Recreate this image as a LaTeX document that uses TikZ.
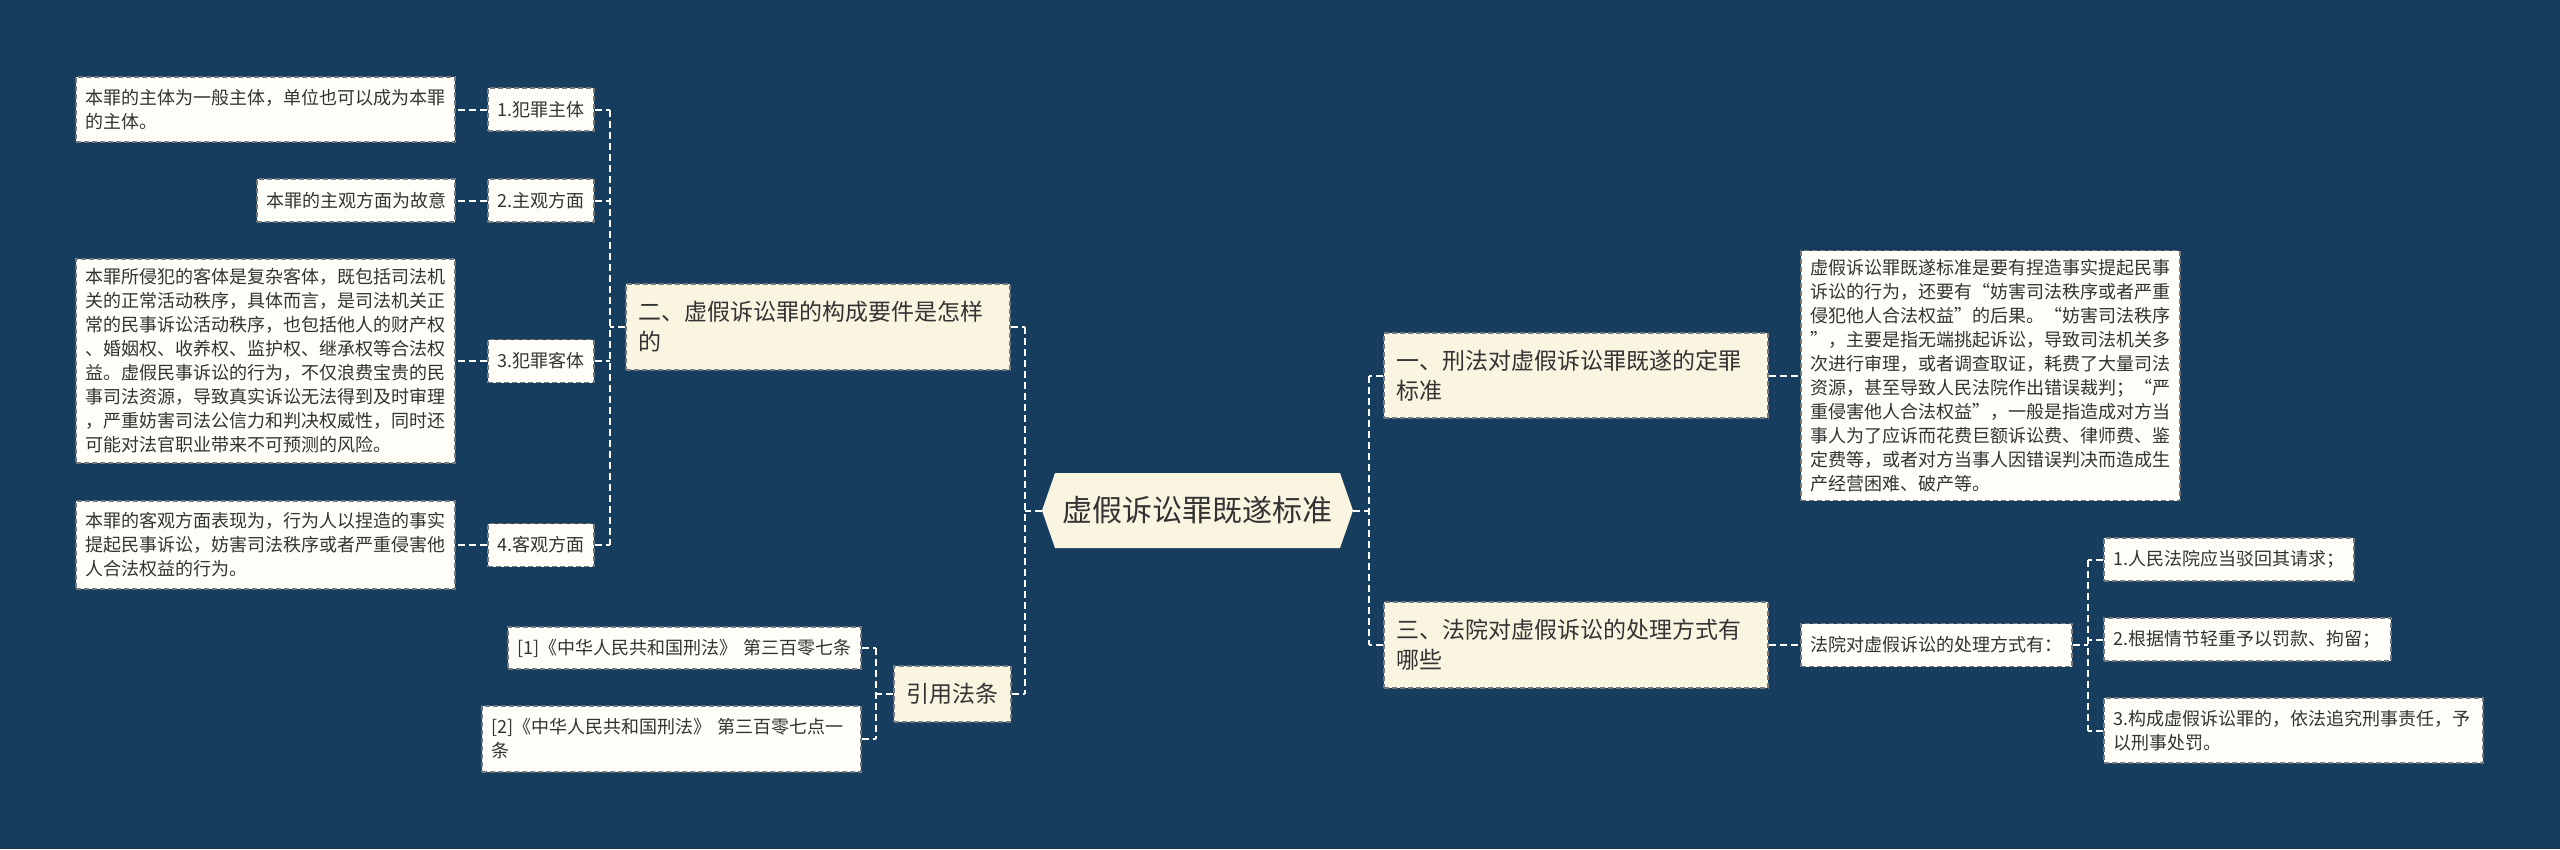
\documentclass[tikz,border=0pt]{standalone}
\usepackage{fontspec}
\setmainfont{Noto Sans CJK SC}
\definecolor{bg}{RGB}{23,61,94}
\definecolor{cream}{RGB}{250,245,225}
\definecolor{leafc}{RGB}{255,254,248}
\definecolor{txt}{RGB}{51,51,51}
\definecolor{bord}{RGB}{115,120,125}
\begin{document}
\begin{tikzpicture}[x=1pt,y=-1pt,
 conn/.style={draw=white, line width=2pt, dash pattern=on 7pt off 4pt},
 boxbase/.style={draw=bord, line width=1.4pt, dash pattern=on 5pt off 3pt, text=txt, inner ysep=0pt, anchor=center},
 leaf/.style={boxbase, fill=leafc, font=\fontsize{18}{24}\selectfont, align=left, inner xsep=9pt},
 leafc/.style={boxbase, fill=leafc, font=\fontsize{18}{24}\selectfont, align=center, inner xsep=9pt},
 mainbox/.style={boxbase, fill=cream, font=\fontsize{23}{30}\selectfont, align=left, inner xsep=12pt},
]
\fill[bg] (0,0) rectangle (2560,849);
\useasboundingbox (0,0) rectangle (2560,849);

% centre
\fill[cream] (1042,510.5) -- (1055,473) -- (1340,473) -- (1353,510.5) -- (1340,548) -- (1055,548) -- cycle;
\node[text=txt, font=\fontsize{30}{36}\selectfont, minimum width=311pt, minimum height=75pt, inner sep=0pt] (ctr) at (1197.5,510.5) {虚假诉讼罪既遂标准};

% main branches
\node[mainbox, text width=360pt, minimum height=86pt] (er) at (818,327) {二、虚假诉讼罪的构成要件是怎样\\的};
\node[mainbox, text width=360pt, minimum height=85pt] (yi) at (1576,375.5) {一、刑法对虚假诉讼罪既遂的定罪\\标准};
\node[mainbox, text width=360pt, minimum height=86pt] (san) at (1576,645) {三、法院对虚假诉讼的处理方式有\\哪些};
\node[mainbox, align=center, inner xsep=8.5pt, text width=100pt, minimum height=56pt] (yy) at (952.5,694) {引用法条};

% left sub-branches
\node[leafc, text width=88pt, minimum height=43pt] (b1) at (541,109.5) {1.犯罪主体};
\node[leafc, text width=88pt, minimum height=43pt] (b2) at (541,200.5) {2.主观方面};
\node[leafc, text width=88pt, minimum height=43pt] (b3) at (541,361) {3.犯罪客体};
\node[leafc, text width=88pt, minimum height=43pt] (b4) at (541,545) {4.客观方面};

\node[leaf, text width=361pt, minimum height=65pt] (l1) at (265.5,109.5) {本罪的主体为一般主体，单位也可以成为本罪\\的主体。};
\node[leaf, text width=180pt, minimum height=43pt] (l2) at (356,200.5) {本罪的主观方面为故意};
\node[leaf, text width=361pt, minimum height=204pt] (l3) at (265.5,361) {本罪所侵犯的客体是复杂客体，既包括司法机\\关的正常活动秩序，具体而言，是司法机关正\\常的民事诉讼活动秩序，也包括他人的财产权\\、婚姻权、收养权、监护权、继承权等合法权\\益。虚假民事诉讼的行为，不仅浪费宝贵的民\\事司法资源，导致真实诉讼无法得到及时审理\\，严重妨害司法公信力和判决权威性，同时还\\可能对法官职业带来不可预测的风险。};
\node[leaf, text width=361pt, minimum height=88pt] (l4) at (265.5,545) {本罪的客观方面表现为，行为人以捏造的事实\\提起民事诉讼，妨害司法秩序或者严重侵害他\\人合法权益的行为。};

% references
\node[leaf, text width=335pt, minimum height=42pt] (r1) at (684.5,648) {[1]《中华人民共和国刑法》 第三百零七条};
\node[leaf, text width=361pt, minimum height=66pt] (r2) at (671.5,739) {[2]《中华人民共和国刑法》 第三百零七点一\\条};

% right side
\node[leaf, text width=361pt, minimum height=250pt] (det) at (1990.5,375.5) {虚假诉讼罪既遂标准是要有捏造事实提起民事\\诉讼的行为，还要有“妨害司法秩序或者严重\\侵犯他人合法权益”的后果。“妨害司法秩序\\”，主要是指无端挑起诉讼，导致司法机关多\\次进行审理，或者调查取证，耗费了大量司法\\资源，甚至导致人民法院作出错误裁判；“严\\重侵害他人合法权益”，一般是指造成对方当\\事人为了应诉而花费巨额诉讼费、律师费、鉴\\定费等，或者对方当事人因错误判决而造成生\\产经营困难、破产等。};
\node[leaf, text width=253pt, minimum height=43pt] (fy) at (1936.5,645) {法院对虚假诉讼的处理方式有：};
\node[leaf, text width=232pt, minimum height=43pt] (pa) at (2229,559.5) {1.人民法院应当驳回其请求；};
\node[leaf, text width=269pt, minimum height=43pt] (pb) at (2247.5,639.5) {2.根据情节轻重予以罚款、拘留；};
\node[leaf, text width=361pt, minimum height=65pt] (pc) at (2293.5,730.5) {3.构成虚假诉讼罪的，依法追究刑事责任，予\\以刑事处罚。};

% connectors: centre left
\coordinate (tL) at (1025,510.5);
\draw[conn] (ctr.west) -- (tL);
\draw[conn] (er.east -| tL) -- (yy.east -| tL);
\draw[conn] (er.east) -- (er.east -| tL);
\draw[conn] (yy.east) -- (yy.east -| tL);

% er to b1..b4
\coordinate (tLL) at (610,327);
\draw[conn] (er.west) -- (tLL);
\draw[conn] (b1.east -| tLL) -- (b4.east -| tLL);
\foreach \b/\l in {b1/l1,b2/l2,b3/l3,b4/l4}{
  \draw[conn] (\b.east) -- (\b.east -| tLL);
  \draw[conn] (\b.west) -- (\l.east);
}

% yy to refs
\coordinate (tR) at (876,694);
\draw[conn] (yy.west) -- (tR);
\draw[conn] (r1.east -| tR) -- (r2.east -| tR);
\draw[conn] (r1.east) -- (r1.east -| tR);
\draw[conn] (r2.east) -- (r2.east -| tR);

% centre right
\coordinate (tRt) at (1369,510.5);
\draw[conn] (ctr.east) -- (tRt);
\draw[conn] (yi.west -| tRt) -- (san.west -| tRt);
\draw[conn] (yi.west) -- (yi.west -| tRt);
\draw[conn] (san.west) -- (san.west -| tRt);
\draw[conn] (yi.east) -- (det.west);
\draw[conn] (san.east) -- (fy.west);

% fy to pa pb pc
\coordinate (tF) at (2088,645);
\draw[conn] (fy.east) -- (tF);
\draw[conn] (pa.west -| tF) -- (pc.west -| tF);
\foreach \p in {pa,pb,pc}{
  \draw[conn] (\p.west) -- (\p.west -| tF);
}
\end{tikzpicture}
\end{document}
